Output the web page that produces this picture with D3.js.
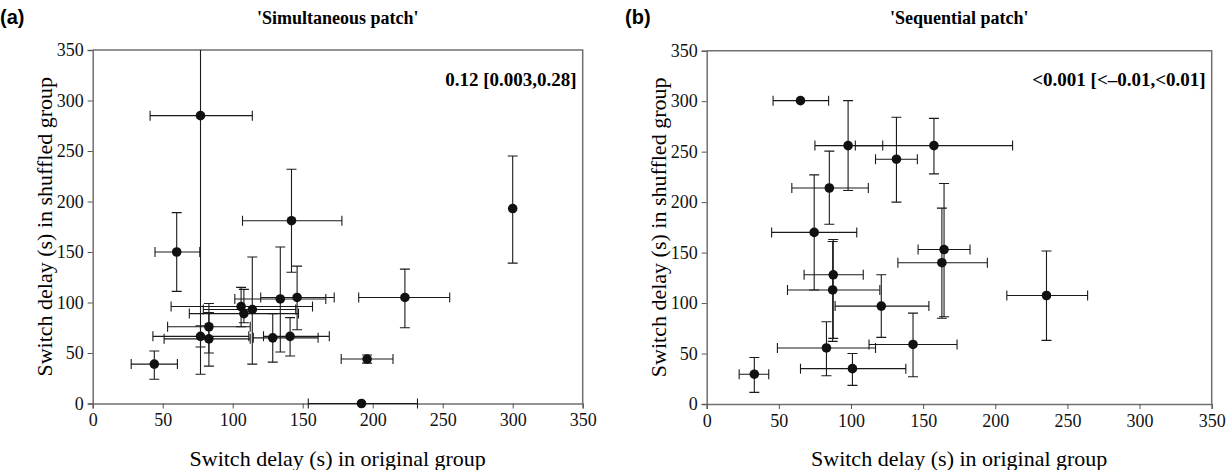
<!DOCTYPE html>
<html>
<head>
<meta charset="utf-8">
<script src="https://cdn.jsdelivr.net/npm/d3@7"></script>
<style>
  body { margin: 0; background: #fff; }
  svg { display: block; }
  .tick text { font-family: "Liberation Serif", "Times New Roman", serif !important; font-size: 18px !important; }
</style>
</head>
<body>
<div id="chart"></div>
<script>
// Tick values shared by both panels
const tickValues = [0, 50, 100, 150, 200, 250, 300, 350];

// Panel (a) 'Simultaneous patch' - means with error bars (null = no bar)
const simX    = [77, 142, 60, 44, 300, 223, 196, 192, 106, 114, 108, 83, 77, 83, 134, 146, 128.6, 141];
const simY    = [285, 181, 150, 39, 193, 105, 44, 0, 96, 93, 89, 76, 66.5, 64, 103.5, 105, 65, 66.5];
const simXLo  = [41, 107, 44.5, 27.5, null, 190, 177.5, 154, 56, 79, 69, 53.5, 43, 51, 101.5, 120, 114.7, 122];
const simXHi  = [114, 178, 76.5, 60.5, null, 255, 214.5, 232, 157, 145, 147, 112.5, 111.5, 112.5, 166.5, 172.5, 161, 169];
const simYLo  = [29, 130, 111, 24, 139, 75, 40, null, 76, 39, 80, 50, 56, 37, 51, 73, 41, 47];
const simYHi  = [380, 232, 189, 52, 245, 133, 48, null, 115, 145, 113, 99, 77, 90, 155, 136, 89, 85];

// Panel (b) 'Sequential patch'
const seqX    = [65, 98, 131.5, 157.5, 85, 74.5, 164.5, 163, 87.7, 87.3, 121, 83, 143, 101, 33, 235.5];
const seqY    = [300.5, 256, 242.5, 256, 214, 170, 153, 140, 128, 113, 97, 55.5, 59, 35, 29.5, 107.5];
const seqXLo  = [46, 75, 117, 103, 59, 45, 146.5, 132.5, 67.5, 56, 89, 49, 112.5, 65, 22.5, 208];
const seqXHi  = [84.5, 122, 146, 212, 112, 104, 182.5, 194.5, 108.5, 120, 154, 117, 173.5, 138, 43, 264];
const seqYLo  = [null, 211.5, 200, 228, 178, 113, 86.5, 85, 65, 62, 66, 28, 27, 18.5, 11.5, 63];
const seqYHi  = [null, 300.5, 284, 283, 250.5, 227, 218.5, 194, 163, 161, 128, 81.5, 90, 50, 46, 151.5];

const width = 1229;
const height = 470;
const serif = '"Liberation Serif", "Times New Roman", serif';

const svg = d3.select('#chart')
  .append('svg')
  .attr('width', width)
  .attr('height', height);

// Build point records from the arrays
function rows(xs, ys, xlo, xhi, ylo, yhi) {
  return xs.map((x, i) => ({ x: x, y: ys[i], xlo: xlo[i], xhi: xhi[i], ylo: ylo[i], yhi: yhi[i] }));
}

function drawPanel(opts) {
  const { id, left, right, top, bottom, data, letter, title, note, letterX } = opts;

  const x = d3.scaleLinear().domain([0, 350]).range([left, right]);
  const y = d3.scaleLinear().domain([0, 350]).range([bottom, top]);

  const g = svg.append('g');

  // Clip path so error bars stay inside the frame
  svg.append('clipPath')
    .attr('id', 'clip-' + id)
    .append('rect')
    .attr('x', left)
    .attr('y', top)
    .attr('width', right - left)
    .attr('height', bottom - top + 6);

  // Axes
  const yAxis = d3.axisLeft(y).tickValues(tickValues).tickSize(5).tickPadding(4).tickFormat(d3.format('d'));
  const xAxis = d3.axisBottom(x).tickValues(tickValues).tickSize(5).tickPadding(5).tickFormat(d3.format('d'));

  const ya = g.append('g').attr('transform', `translate(${left},0)`).call(yAxis);
  const xa = g.append('g').attr('transform', `translate(0,${bottom})`).call(xAxis);

  [ya, xa].forEach(a => {
    a.attr('font-family', serif).attr('font-size', 18);
    a.select('.domain').attr('stroke', '#707070').attr('stroke-width', 1.5);
    a.selectAll('.tick line').attr('stroke', '#555').attr('stroke-width', 1);
    a.selectAll('.tick text').attr('fill', '#111').style('font-family', serif);
  });

  // Frame top and right
  g.append('path')
    .attr('d', `M${left},${top}H${right}V${bottom}`)
    .attr('fill', 'none')
    .attr('stroke', '#707070')
    .attr('stroke-width', 1.5);

  const bars = g.append('g')
    .attr('clip-path', `url(#clip-${id})`)
    .attr('stroke', '#1a1a1a')
    .attr('stroke-width', 1.1)
    .attr('fill', 'none');

  const cap = 5;

  // Horizontal error bars
  const hx = data.filter(d => d.xlo !== null);
  bars.selectAll('.hbar').data(hx).enter().append('path')
    .attr('class', 'hbar')
    .attr('d', d => `M${x(d.xlo)},${y(d.y)}H${x(d.xhi)}` +
      `M${x(d.xlo)},${y(d.y) - cap}V${y(d.y) + cap}` +
      `M${x(d.xhi)},${y(d.y) - cap}V${y(d.y) + cap}`);

  // Vertical error bars
  const vy = data.filter(d => d.ylo !== null);
  bars.selectAll('.vbar').data(vy).enter().append('path')
    .attr('class', 'vbar')
    .attr('d', d => `M${x(d.x)},${y(d.ylo)}V${y(d.yhi)}` +
      `M${x(d.x) - cap},${y(d.ylo)}H${x(d.x) + cap}` +
      `M${x(d.x) - cap},${y(d.yhi)}H${x(d.x) + cap}`);

  // Points
  g.selectAll('.dot').data(data).enter().append('circle')
    .attr('class', 'dot')
    .attr('cx', d => x(d.x))
    .attr('cy', d => y(d.y))
    .attr('r', 4.8)
    .attr('fill', '#111');

  // Panel letter
  svg.append('text')
    .attr('x', letterX)
    .attr('y', 24)
    .style('font-family', '"Liberation Sans", Arial, sans-serif')
    .style('font-weight', 'bold')
    .style('font-size', '20px')
    .text(letter);

  // Panel title
  svg.append('text')
    .attr('x', (left + right) / 2)
    .attr('y', 24)
    .attr('text-anchor', 'middle')
    .style('font-family', serif)
    .style('font-weight', 'bold')
    .style('font-size', '18px')
    .text(title);

  // Correlation annotation
  svg.append('text')
    .attr('x', right - 6)
    .attr('y', 86)
    .attr('text-anchor', 'end')
    .style('font-family', serif)
    .style('font-weight', 'bold')
    .style('font-size', '19px')
    .text(note);

  // Axis titles
  svg.append('text')
    .attr('x', (left + right) / 2)
    .attr('y', 466)
    .attr('text-anchor', 'middle')
    .style('font-family', serif)
    .style('font-size', '22px')
    .text('Switch delay (s) in original group');

  svg.append('text')
    .attr('transform', `translate(${left - 41},${(top + bottom) / 2}) rotate(-90)`)
    .attr('text-anchor', 'middle')
    .style('font-family', serif)
    .style('font-size', '22px')
    .text('Switch delay (s) in shuffled group');
}

drawPanel({
  id: 'a', left: 92.7, right: 582.7, top: 50, bottom: 403.5,
  data: rows(simX, simY, simXLo, simXHi, simYLo, simYHi),
  letter: '(a)', letterX: 0,
  title: "'Simultaneous patch'",
  note: '0.12 [0.003,0.28]'
});

drawPanel({
  id: 'b', left: 706.7, right: 1211.7, top: 50.7, bottom: 404,
  data: rows(seqX, seqY, seqXLo, seqXHi, seqYLo, seqYHi),
  letter: '(b)', letterX: 625,
  title: "'Sequential patch'",
  note: '<0.001 [<\u20130.01,<0.01]'
});
</script>
</body>
</html>
